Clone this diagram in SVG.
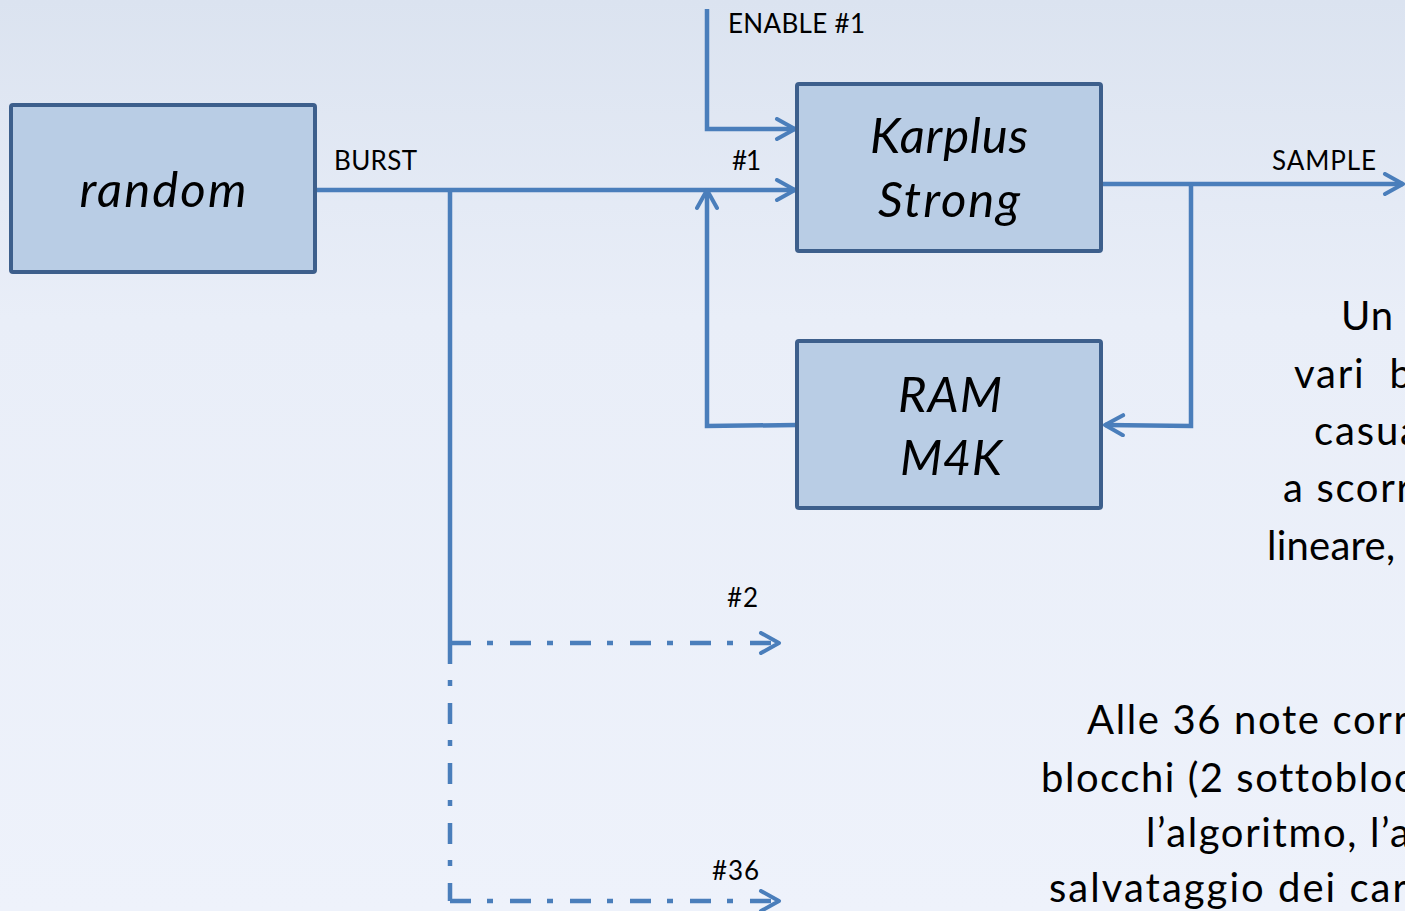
<svg xmlns="http://www.w3.org/2000/svg" width="1405" height="911" viewBox="0 0 1405 911">
  <defs>
    <linearGradient id="bg" x1="0" y1="0" x2="0" y2="1">
      <stop offset="0" stop-color="#dbe3f0"/>
      <stop offset="0.35" stop-color="#e9eef8"/>
      <stop offset="1" stop-color="#eef2fb"/>
    </linearGradient>
    <marker id="arrow" viewBox="-22 -12 26 24" refX="0" refY="0" markerWidth="26" markerHeight="24" markerUnits="userSpaceOnUse" orient="auto">
      <path d="M-18,-10 L0,0 L-18,10" fill="none" stroke="#4a7ebb" stroke-width="4" stroke-linecap="round" stroke-linejoin="round"/>
    </marker>
    <style>
      text { font-variant-ligatures: none; }
      .box { fill: #b9cde5; stroke: #3d5f8c; stroke-width: 4; }
      .title { font-family: Lato, "Open Sans", "Liberation Sans", sans-serif; font-style: italic; font-size: 49px; fill: #000; text-anchor: middle; }
      .label { font-family: Lato, "Open Sans", "Liberation Sans", sans-serif; font-size: 26px; fill: #000; }
      .body { font-family: Lato, "Open Sans", "Liberation Sans", sans-serif; font-size: 40px; fill: #000; }
      .wire { fill: none; stroke: #4a7ebb; stroke-width: 4.5; }
      .dashdot { stroke-dasharray: 21 16 6 17; }
    </style>
  </defs>

  <rect x="0" y="0" width="1405" height="911" fill="url(#bg)"/>

  <!-- connectors -->
  <g id="connectors">
    <!-- BURST from random to Karplus Strong #1 -->
    <path class="wire" d="M315,190 L795,190" marker-end="url(#arrow)"/>
    <!-- BURST trunk down to the other voices -->
    <path class="wire" d="M450,190 L450,643"/>
    <path class="wire dashdot" d="M450,643 L450,901"/>
    <path class="wire dashdot" d="M450,643 L779,643" marker-end="url(#arrow)"/>
    <path class="wire dashdot" d="M450,901 L779,901" marker-end="url(#arrow)"/>
    <!-- ENABLE #1 -->
    <path class="wire" d="M707,9 L707,129 L795,129" marker-end="url(#arrow)"/>
    <!-- RAM feedback into #1 input -->
    <path class="wire" d="M797,425 L707,426 L707,190" marker-end="url(#arrow)"/>
    <!-- SAMPLE output -->
    <path class="wire" d="M1101,184 L1403,184" marker-end="url(#arrow)"/>
    <!-- SAMPLE into RAM -->
    <path class="wire" d="M1191,184 L1191,426 L1105,425" marker-end="url(#arrow)"/>
  </g>

  <!-- nodes -->
  <g id="random">
    <rect class="box" x="11" y="105" width="304" height="167" rx="2"/>
    <text class="title" x="163" y="207" textLength="167">random</text>
  </g>

  <g id="karplus-strong">
    <rect class="box" x="797" y="84" width="304" height="167" rx="2"/>
    <text class="title" x="949" y="153" textLength="158">Karplus</text>
    <text class="title" x="949" y="217" textLength="142">Strong</text>
  </g>

  <g id="ram-m4k">
    <rect class="box" x="797" y="341" width="304" height="167" rx="2"/>
    <text class="title" x="950" y="412" textLength="104">RAM</text>
    <text class="title" x="951" y="475" textLength="102">M4K</text>
  </g>

  <!-- signal labels -->
  <g id="labels">
    <text class="label" x="728" y="33" textLength="137">ENABLE #1</text>
    <text class="label" x="334" y="170" textLength="83">BURST</text>
    <text class="label" x="732" y="170" textLength="29">#1</text>
    <text class="label" x="1272" y="170" textLength="104">SAMPLE</text>
    <text class="label" x="727" y="607" textLength="31">#2</text>
    <text class="label" x="712" y="880" textLength="47">#36</text>
  </g>

  <!-- description text, running off the right edge -->
  <g id="notes">
    <text class="body" x="1341" y="330" textLength="52">Un</text>
    <text class="body" x="1294" y="388" textLength="118" xml:space="preserve">vari  b</text>
    <text class="body" x="1314" y="445" textLength="106">casua</text>
    <text class="body" x="1283" y="502" textLength="128">a scorr</text>
    <text class="body" x="1267" y="560" textLength="128">lineare,</text>

    <text class="body" x="1087" y="734" textLength="321">Alle 36 note corr</text>
    <text class="body" x="1041" y="792" textLength="372">blocchi (2 sottobloc</text>
    <text class="body" x="1146" y="847" textLength="264">l’algoritmo, l’a</text>
    <text class="body" x="1049" y="902" textLength="358">salvataggio dei car</text>
  </g>
</svg>
